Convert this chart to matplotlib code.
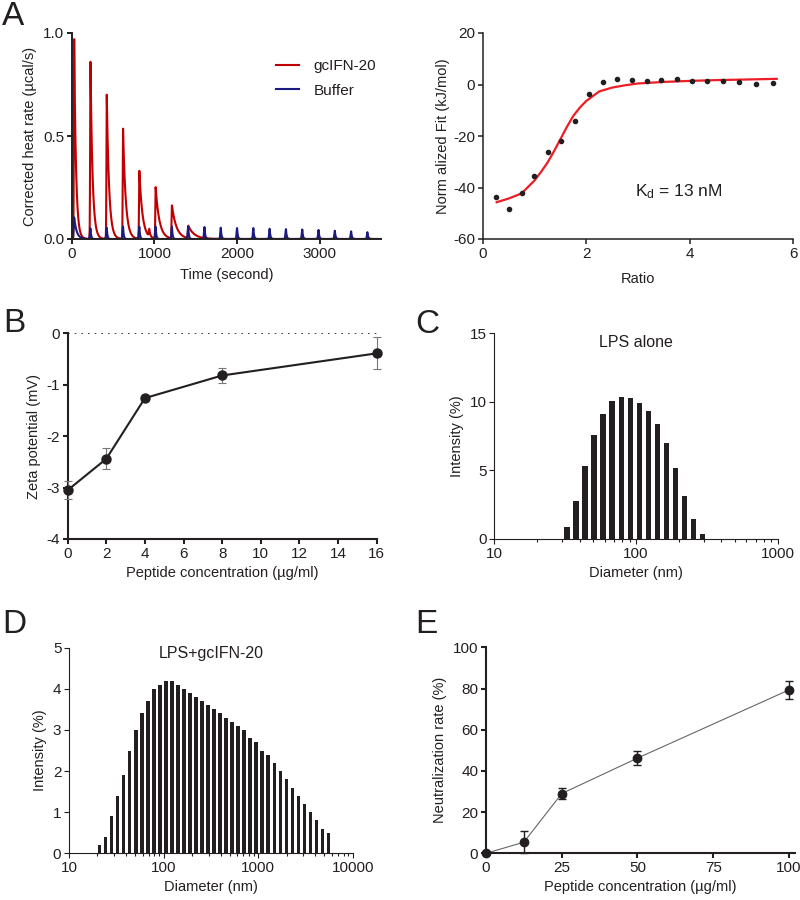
import numpy as np
import matplotlib
matplotlib.use('Agg')
import matplotlib.pyplot as plt
from matplotlib.ticker import LogLocator, NullFormatter

plt.rcParams['font.family'] = ['Liberation Sans', 'DejaVu Sans']
plt.rcParams['font.size'] = 10.5
plt.rcParams['axes.unicode_minus'] = False
plt.rcParams['mathtext.fontset'] = 'custom'
plt.rcParams['mathtext.rm'] = 'Liberation Sans'
plt.rcParams['mathtext.it'] = 'Liberation Sans:italic'

ink = '#231f20'
plt.rcParams['text.color'] = ink
plt.rcParams['axes.labelcolor'] = ink
plt.rcParams['xtick.color'] = ink
plt.rcParams['ytick.color'] = ink
plt.rcParams['axes.edgecolor'] = ink

# ---- A (left): raw ITC thermogram, one entry per injection
inj_time = [30, 227, 424, 621, 818, 1015, 1212, 1409, 1606, 1803,
            2000, 2197, 2394, 2591, 2788, 2985, 3182, 3379, 3576]
red_peak = [0.97, 0.86, 0.70, 0.535, 0.33, 0.25, 0.16, 0.06, 0.02, 0.02,
            0.02, 0.02, 0.02, 0.02, 0.02, 0.02, 0.02, 0.02, 0.02]
red_tau = [22, 25, 28, 32, 38, 45, 55, 75, 10, 10,
           10, 10, 10, 10, 10, 10, 10, 10, 10]
blue_peak = [0.105, 0.052, 0.055, 0.06, 0.06, 0.06, 0.06, 0.06, 0.058, 0.055,
             0.053, 0.053, 0.05, 0.048, 0.046, 0.044, 0.04, 0.037, 0.033]
blue_tau = [30, 8, 8, 8, 8, 8, 8, 8, 8, 8, 8, 8, 8, 8, 8, 8, 8, 8, 8]
spike_time = [938]
spike_peak = [0.035]
spike_tau = [12]

# ---- A (right): integrated heats and fit
ratio = [0.25, 0.50, 0.75, 1.00, 1.26, 1.52, 1.78, 2.05, 2.32, 2.60,
         2.88, 3.17, 3.45, 3.75, 4.04, 4.33, 4.64, 4.96, 5.27, 5.60]
heat = [-43.8, -48.4, -42.3, -35.6, -26.2, -22.1, -14.3, -3.8, 0.8, 2.1,
        1.8, 1.4, 1.9, 2.1, 1.4, 1.4, 1.2, 0.8, 0.3, 0.5]
fit_ratio = [0.27, 0.5, 0.75, 1.0, 1.125, 1.25, 1.375, 1.5, 1.625, 1.75, 1.875,
             2.0, 2.25, 2.5, 2.75, 3.0, 3.5, 4.0, 4.5, 5.0, 5.68]
fit_heat = [-45.7, -44.3, -42.3, -37.3, -34.0, -30.4, -26.0, -21.3, -16.5, -12.2, -9.0,
            -6.4, -2.7, -1.2, -0.3, 0.4, 1.0, 1.4, 1.7, 1.9, 2.2]

# ---- B: zeta potential
zeta_conc = [0, 2, 4, 8, 16]
zeta = [-3.05, -2.44, -1.26, -0.82, -0.39]
zeta_err = [0.17, 0.20, 0.03, 0.15, 0.31]

# ---- C: DLS, LPS alone
lps_d = [32.67, 37.84, 43.82, 50.75, 58.77, 68.06, 78.82, 91.28, 105.7, 122.4,
         141.8, 164.2, 190.1, 220.2, 255.0, 295.3]
lps_int = [0.9, 2.8, 5.3, 7.6, 9.15, 10.05, 10.35, 10.25, 9.95, 9.35,
           8.4, 7.0, 5.15, 3.15, 1.45, 0.35]

# ---- D: DLS, LPS + gcIFN-20
mix_d = [21.04, 24.36, 28.21, 32.67, 37.84, 43.82, 50.75, 58.77, 68.06, 78.82,
         91.28, 105.7, 122.4, 141.8, 164.2, 190.1, 220.2, 255.0, 295.3, 342.0,
         396.1, 458.7, 531.2, 615.1, 712.4, 825.0, 955.4, 1106, 1281, 1484,
         1718, 1990, 2305, 2669, 3091, 3580, 4145, 4801, 5560]
mix_int = [0.2, 0.4, 0.9, 1.4, 1.9, 2.5, 3.0, 3.4, 3.7, 4.0,
           4.1, 4.2, 4.2, 4.1, 4.0, 3.9, 3.8, 3.7, 3.6, 3.5,
           3.4, 3.3, 3.2, 3.1, 3.0, 2.8, 2.7, 2.5, 2.4, 2.2,
           2.0, 1.8, 1.6, 1.4, 1.2, 1.0, 0.8, 0.6, 0.5]

# ---- E: LPS neutralization
neut_conc = [0, 12.5, 25, 50, 100]
neut = [0, 5.4, 29.0, 46.2, 79.3]
neut_err = [0.5, 5.3, 2.5, 3.3, 4.3]

W, H = 800, 900


def box(l, t, r, b):
    return [l / W, 1 - b / H, (r - l) / W, (b - t) / H]


def style(ax, lw):
    ax.spines['top'].set_visible(False)
    ax.spines['right'].set_visible(False)
    ax.spines['left'].set_linewidth(lw)
    ax.spines['bottom'].set_linewidth(lw)
    ax.tick_params(direction='out', length=3.5, width=lw, labelsize=11, pad=2)


def trace(t, times, heights, taus, rise):
    y = np.zeros_like(t)
    for t0, h, tau in zip(times, heights, taus):
        dt = t - t0
        y += h * np.where(dt < 0, np.exp(-0.5 * (dt / rise) ** 2), np.exp(-dt / tau))
    return y


fig = plt.figure(figsize=(8, 9), dpi=100)

# A left
ax = fig.add_axes(box(71.7, 33, 381, 239))
style(ax, 1.4)
t = np.arange(0, 3740, 0.5)
red = trace(t, inj_time, red_peak, red_tau, 4) + trace(t, spike_time, spike_peak, spike_tau, 6)
blue = trace(t, inj_time, blue_peak, blue_tau, 6)
ax.plot(t, red, color='#c00000', lw=1.5, label='gcIFN-20')
ax.plot(t, blue, color='#1a1a80', lw=1.5, label='Buffer')
ax.set_xlim(0, 3740)
ax.set_ylim(0, 1.0)
ax.set_xticks([0, 1000, 2000, 3000])
ax.set_yticks([0, 0.5, 1.0])
ax.set_yticklabels(['0.0', '0.5', '1.0'])
ax.set_xlabel('Time (second)', labelpad=5)
ax.set_ylabel('Corrected heat rate (µcal/s)', labelpad=4)
ax.legend(loc='upper left', bbox_to_anchor=(0.615, 0.94), frameon=False,
          handlelength=1.5, handletextpad=1.0, labelspacing=0.7, fontsize=11)

# A right
ax = fig.add_axes(box(482.7, 33, 793.3, 239))
style(ax, 1.1)
ax.plot(fit_ratio, fit_heat, color='#ee1c25', lw=1.6)
ax.plot(ratio, heat, 'o', color=ink, ms=3)
ax.set_xlim(0, 6)
ax.set_ylim(-60, 20)
ax.set_xticks([0, 2, 4, 6])
ax.set_yticks([-60, -40, -20, 0, 20])
ax.set_xlabel('Ratio', labelpad=8)
ax.set_ylabel('Norm alized Fit (kJ/mol)', labelpad=2)
ax.text(2.94, -41.7, r'K$_{\rm d}$ = 13 nM', fontsize=12.5, va='center')

# B
ax = fig.add_axes(box(67.7, 333.3, 376.7, 539))
style(ax, 1.5)
ax.axhline(0, color=ink, lw=1.2, ls=(0, (1, 3)))
ax.errorbar(zeta_conc, zeta, yerr=zeta_err, color=ink, lw=1.5, marker='o', ms=6.5,
            ecolor='#777777', elinewidth=0.8, capsize=3, capthick=0.8, clip_on=False, zorder=3)
ax.set_xlim(0, 16)
ax.set_ylim(-4, 0)
ax.set_xticks(range(0, 17, 2))
ax.set_yticks([-4, -3, -2, -1, 0])
ax.set_xlabel('Peptide concentration (µg/ml)', labelpad=4)
ax.set_ylabel('Zeta potential (mV)', labelpad=4)


def dls(ax, d, inten, frac):
    d = np.asarray(d)
    step = 10 ** 0.0638
    left = d * step ** (-frac / 2)
    right = d * step ** (frac / 2)
    ax.bar(left, inten, width=right - left, align='edge', color=ink, lw=0)
    ax.xaxis.set_minor_locator(LogLocator(base=10, subs=np.arange(2, 10)))
    ax.xaxis.set_minor_formatter(NullFormatter())
    ax.tick_params(which='minor', length=2, width=0.8)


# C
ax = fig.add_axes(box(494.3, 333.3, 777.7, 539))
style(ax, 0.8)
ax.set_xscale('log')
dls(ax, lps_d, lps_int, 0.63)
ax.set_xlim(10, 1000)
ax.set_ylim(0, 15)
ax.set_xticks([10, 100, 1000])
ax.set_xticklabels(['10', '100', '1000'])
ax.set_yticks([0, 5, 10, 15])
ax.set_xlabel('Diameter (nm)', labelpad=4)
ax.set_ylabel('Intensity (%)', labelpad=4)
ax.text(0.5, 0.953, 'LPS alone', transform=ax.transAxes, ha='center', va='center', fontsize=11.5)

# D
ax = fig.add_axes(box(69, 647.7, 352.7, 853.3))
style(ax, 0.8)
ax.set_xscale('log')
dls(ax, mix_d, mix_int, 0.6)
ax.set_xlim(10, 10000)
ax.set_ylim(0, 5)
ax.set_xticks([10, 100, 1000, 10000])
ax.set_xticklabels(['10', '100', '1000', '10000'])
ax.set_yticks([0, 1, 2, 3, 4, 5])
ax.set_xlabel('Diameter (nm)', labelpad=4)
ax.set_ylabel('Intensity (%)', labelpad=4)
ax.text(0.5, 0.974, 'LPS+gcIFN-20', transform=ax.transAxes, ha='center', va='center', fontsize=11.5)

# E
ax = fig.add_axes(box(486, 647.3, 795, 853.3))
style(ax, 1.5)
ax.plot(neut_conc, neut, color='#666666', lw=0.8, zorder=2)
ax.errorbar(neut_conc, neut, yerr=neut_err, fmt='o', color=ink, ms=6, ecolor=ink,
            elinewidth=1.0, capsize=3, capthick=1.0, clip_on=False, zorder=3)
ax.set_xlim(0, 102)
ax.set_ylim(0, 100)
ax.set_xticks([0, 25, 50, 75, 100])
ax.set_yticks([0, 20, 40, 60, 80, 100])
ax.set_xlabel('Peptide concentration (µg/ml)', labelpad=4)
ax.set_ylabel('Neutralization rate (%)', labelpad=4)

# panel letters
for lab, x, y in [('A', 2, 25), ('B', 3, 332), ('C', 415, 333), ('D', 2, 633), ('E', 415, 633)]:
    fig.text(x / W, 1 - y / H, lab, fontsize=24, va='baseline', ha='left')

fig.savefig('out.png', dpi=100)
